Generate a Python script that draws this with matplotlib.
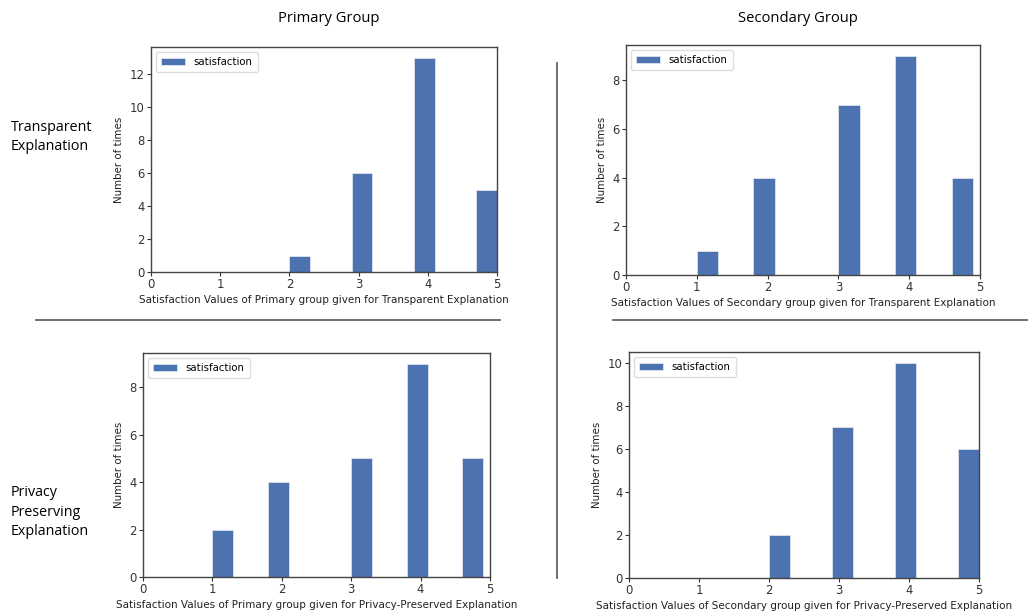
import numpy as np
import matplotlib
matplotlib.use("Agg")
import matplotlib.pyplot as plt

scores = [1, 2, 3, 4, 5]
primary_transparent = [0, 1, 6, 13, 5]
secondary_transparent = [1, 4, 7, 9, 4]
primary_privacy = [2, 4, 5, 9, 5]
secondary_privacy = [0, 2, 7, 10, 6]

xlabels = [
    "Satisfaction Values of Primary group given for Transparent Explanation",
    "Satisfaction Values of Secondary group given for Transparent Explanation",
    "Satisfaction Values of Primary group given for Privacy-Preserved Explanation",
    "Satisfaction Values of Secondary group given for Privacy-Preserved Explanation",
]
col_titles = ["Primary Group", "Secondary Group"]
row_titles = ["Transparent\nExplanation", "Privacy\nPreserving\nExplanation"]

W, H = 1028, 613
fig = plt.figure(figsize=(W / 100, H / 100), dpi=100)

def px_axes(l, t, r, b):
    return fig.add_axes([l / W, 1 - b / H, (r - l) / W, (b - t) / H])

boxes = [(151, 47, 497, 272), (626, 45, 980, 275),
         (143, 353, 490, 577), (629, 352, 979, 578)]
panels = [primary_transparent, secondary_transparent, primary_privacy, secondary_privacy]

for box, counts, xl in zip(boxes, panels, xlabels):
    ax = px_axes(*box)
    raw = np.repeat(scores, counts)
    n, edges = np.histogram(raw, bins=10)
    keep = n > 0
    ax.bar(edges[:-1][keep], n[keep], width=0.3, align="edge",
           color="#4c72b0", edgecolor="#dde4f0", linewidth=0.6, label="satisfaction")
    ax.set_xlim(0, 5)
    ax.set_ylim(0, n.max() * 1.05)
    ax.set_xticks(range(6))
    ax.set_xlabel(xl, fontsize=7.5, color="#222222", labelpad=3)
    ax.set_ylabel("Number of times", fontsize=7.4, color="#222222", labelpad=4)
    ax.tick_params(labelsize=8.4, length=3, width=0.8, colors="#333333", pad=1.5)
    for s in ax.spines.values():
        s.set_color("#444444")
        s.set_linewidth(1.0)
    ax.legend(loc="upper left", fontsize=7.3, frameon=True, handlelength=2.4,
              borderpad=0.5, framealpha=1, edgecolor="#dddddd")

hfont = ["Open Sans", "DejaVu Sans"]
fig.text(329 / W, 1 - 19 / H, col_titles[0], ha="center", va="center", fontsize=10.6, family=hfont)
fig.text(798 / W, 1 - 19 / H, col_titles[1], ha="center", va="center", fontsize=10.6, family=hfont)
fig.text(11 / W, 1 - 137 / H, row_titles[0], ha="left", va="center", fontsize=10.3,
         family=hfont, linespacing=1.45)
fig.text(11 / W, 1 - 512 / H, row_titles[1], ha="left", va="center", fontsize=10.3,
         family=hfont, linespacing=1.45)

# separators
sep = dict(color="#555555", linewidth=1.2, transform=fig.transFigure)
fig.add_artist(plt.Line2D([36 / W, 500 / W], [1 - 320 / H, 1 - 320 / H], **sep))
fig.add_artist(plt.Line2D([613 / W, 1028 / W], [1 - 320 / H, 1 - 320 / H], **sep))
fig.add_artist(plt.Line2D([557 / W, 557 / W], [1 - 63 / H, 1 - 578 / H], **sep))

fig.savefig("out.png", dpi=100)
